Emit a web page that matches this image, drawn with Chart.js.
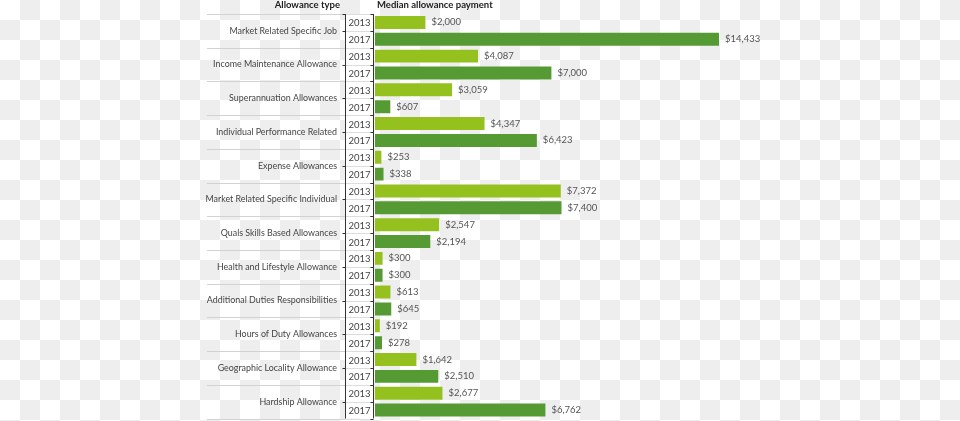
<!DOCTYPE html>
<html><head><meta charset="utf-8">
<script src="https://cdn.jsdelivr.net/npm/chart.js@4"></script>
<style>
html,body{margin:0;padding:0;}
body{width:960px;height:421px;overflow:hidden;background-color:#fff;
background-image:conic-gradient(#eeeeee 0 25%, #ffffff 0 50%, #eeeeee 0 75%, #ffffff 0);
background-size:40px 40px;}
canvas{display:block;}
</style>
</head><body>
<canvas id="c" width="960" height="421"></canvas>
<script>
const categories = [
  'Market Related Specific Job','Income Maintenance Allowance','Superannuation Allowances',
  'Individual Performance Related','Expense Allowances','Market Related Specific Individual',
  'Quals Skills Based Allowances','Health and Lifestyle Allowance','Additional Duties Responsibilities',
  'Hours of Duty Allowances','Geographic Locality Allowance','Hardship Allowance'
];
const years = ['2013','2017'];
const values2013 = [2000,4087,3059,4347,253,7372,2547,300,613,192,1642,2677];
const values2017 = [14433,7000,607,6423,338,7400,2194,300,645,278,2510,6762];
const headerLeft = 'Allowance type';
const headerRight = 'Median allowance payment';
const seriesColors = ['#95c11f','#559a33'];

const FONT = 'Lato, "Open Sans", sans-serif';
const fmt = v => '$' + v.toLocaleString('en-US');

const tablePlugin = {
  id: 'table',
  beforeDraw(chart){
    const ctx = chart.ctx, a = chart.chartArea;
    const colL = a.left - 30, colR = a.left - 2;
    ctx.save();
    ctx.fillStyle = '#ffffff';
    ctx.fillRect(colL, a.top, colR - colL, a.bottom - a.top);
    ctx.restore();
  },
  afterDraw(chart){
    const ctx = chart.ctx, a = chart.chartArea, ys = chart.scales.y, xs = chart.scales.x;
    const n = categories.length;
    const groupH = (a.bottom - a.top) / n, rowH = groupH / 2;
    const colL = a.left - 30 + 0.5, colR = a.left - 2 + 0.5;
    ctx.save();
    ctx.lineWidth = 1;
    // separators in category column
    ctx.strokeStyle = '#d2d2d2';
    for (let i = 0; i <= n; i++) {
      const yy = i < n ? Math.round(ys.getPixelForValue(i) - groupH/2) + 0.5 : Math.round(ys.getPixelForValue(n-1) + groupH/2) + 0.5;
      ctx.beginPath(); ctx.moveTo(207, yy); ctx.lineTo(colL, yy); ctx.stroke();
    }
    // row lines in year column
    ctx.strokeStyle = '#dddddd';
    for (let i = 0; i < n; i++) {
      const c = ys.getPixelForValue(i);
      [c - groupH/2, c, c + groupH/2].forEach(y0 => {
        const y = Math.round(y0) + 0.5;
        ctx.beginPath(); ctx.moveTo(colL, y); ctx.lineTo(colR, y); ctx.stroke();
      });
    }
    // vertical lines + ticks
    ctx.strokeStyle = '#333333';
    ctx.beginPath(); ctx.moveTo(colL, a.top); ctx.lineTo(colL, a.bottom); ctx.stroke();
    ctx.beginPath(); ctx.moveTo(colR, a.top); ctx.lineTo(colR, a.bottom); ctx.stroke();
    for (let i = 0; i < n; i++) {
      const c = ys.getPixelForValue(i);
      const y = Math.round(c) + 0.5;
      ctx.beginPath(); ctx.moveTo(colL - 3, y); ctx.lineTo(colL, y); ctx.stroke();
      [c - groupH/2, c, c + groupH/2].forEach(y0 => {
        const yy = Math.round(y0) + 0.5;
        ctx.beginPath(); ctx.moveTo(colR - 3, yy); ctx.lineTo(colR, yy); ctx.stroke();
      });
    }
    ctx.beginPath(); ctx.moveTo(colL - 3, a.top + 0.5); ctx.lineTo(colL, a.top + 0.5); ctx.stroke();
    // category labels
    ctx.fillStyle = '#444444';
    ctx.font = '8.9px ' + FONT;
    ctx.textAlign = 'right'; ctx.textBaseline = 'middle';
    categories.forEach((cat, i) => ctx.fillText(cat, 337, ys.getPixelForValue(i)));
    // year labels
    ctx.font = '9.5px ' + FONT;
    ctx.textAlign = 'center';
    categories.forEach((cat, i) => {
      const c = ys.getPixelForValue(i);
      ctx.fillText(years[0], (colL + colR)/2, c - rowH/2 + 1);
      ctx.fillText(years[1], (colL + colR)/2, c + rowH/2 + 1);
    });
    // value labels
    ctx.textAlign = 'left';
    ctx.fillStyle = '#555555';
    ctx.font = '9.5px ' + FONT;
    chart.data.datasets.forEach((ds, di) => {
      const meta = chart.getDatasetMeta(di);
      meta.data.forEach((bar, i) => {
        const x = Math.min(xs.getPixelForValue(ds.data[i]), a.right) + 6;
        ctx.fillText(fmt(ds.data[i]), x, bar.y);
      });
    });
    // headers
    ctx.fillStyle = '#222222';
    ctx.font = 'bold 9.5px ' + FONT;
    ctx.textAlign = 'right';
    ctx.fillText(headerLeft, 340, 5);
    ctx.textAlign = 'left';
    ctx.fillText(headerRight, 377, 5);
    ctx.restore();
  }
};

new Chart(document.getElementById('c'), {
  type: 'bar',
  data: {
    labels: categories,
    datasets: [
      { label: years[0], data: values2013, backgroundColor: seriesColors[0], barPercentage: 0.77, categoryPercentage: 1.0 },
      { label: years[1], data: values2017, backgroundColor: seriesColors[1], barPercentage: 0.77, categoryPercentage: 1.0 }
    ]
  },
  options: {
    indexAxis: 'y',
    responsive: false,
    animation: false,
    layout: { padding: { left: 375, right: 241, top: 14, bottom: 2.5 } },
    plugins: { legend: { display: false }, tooltip: { enabled: false } },
    scales: {
      x: { display: false, min: 0, max: 13650 },
      y: { display: false }
    }
  },
  plugins: [tablePlugin]
});
</script>
</body></html>
